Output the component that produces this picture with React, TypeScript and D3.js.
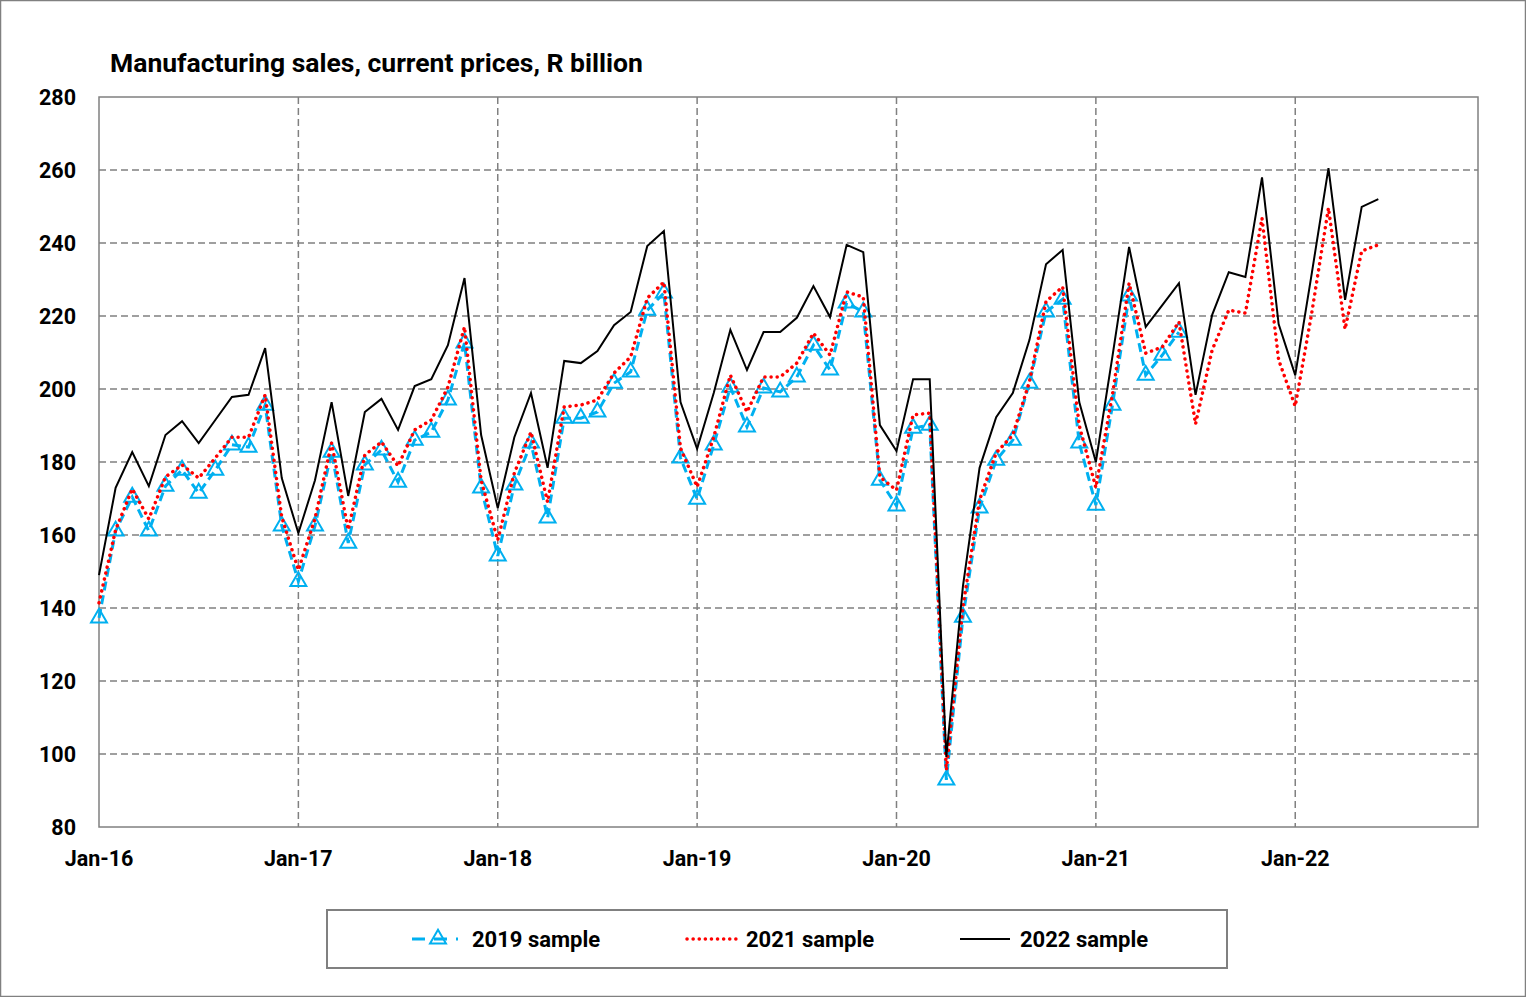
import { useEffect, useRef } from 'react';
import * as d3 from 'd3';

// Monthly values, index 0 = Jan-16
const sample2019 = [
  137.3, 161.1, 170.4, 161.1, 173.4, 177.8, 171.5, 177.8, 184.7, 184.1, 195.6, 162.5,
  147.3, 162.5, 182.7, 157.8, 179.2, 183.3, 174.5, 186.0, 188.2, 197.0, 212.6, 172.9,
  154.3, 173.7, 185.2, 164.7, 192.0, 192.0, 193.7, 201.6, 204.7, 221.6, 226.3, 181.1,
  169.8, 184.7, 200.5, 189.6, 200.3, 199.2, 203.3, 212.0, 205.2, 223.6, 221.1, 175.0,
  168.0, 189.3, 190.1, 92.9, 137.5, 167.4, 180.5, 186.0, 201.6, 221.1, 224.6, 185.2,
  168.2, 195.6, 225.5, 203.8, 209.3, 215.6,
];

const sample2021 = [
  141.4, 161.4, 172.6, 164.4, 175.9, 179.2, 175.6, 181.1, 186.8, 186.8, 198.4, 164.9,
  150.4, 164.5, 185.2, 161.4, 181.9, 185.5, 178.9, 188.8, 191.5, 200.5, 217.0, 175.0,
  158.6, 177.0, 188.2, 169.0, 195.1, 195.6, 197.0, 204.4, 208.8, 224.9, 229.3, 183.8,
  173.2, 186.8, 203.8, 193.7, 203.3, 203.3, 207.1, 215.3, 209.3, 226.6, 225.2, 175.9,
  172.3, 192.9, 193.4, 95.6, 140.3, 169.6, 182.5, 187.4, 202.0, 224.0, 228.0, 190.0,
  173.0, 198.5, 229.0, 209.8, 211.5, 218.4, 190.4, 210.7, 221.6, 220.8, 246.8, 208.0,
  195.3, 221.0, 249.6, 216.4, 237.8, 239.5,
];

const sample2022 = [
  149.0, 172.9, 182.7, 173.4, 187.4, 191.2, 185.2, 191.5, 197.8, 198.4, 211.2, 175.6,
  160.5, 175.0, 196.4, 170.7, 193.7, 197.3, 188.8, 200.8, 202.7, 212.0, 230.4, 187.4,
  167.4, 186.8, 198.9, 178.4, 207.7, 207.1, 210.4, 217.5, 221.1, 239.2, 243.3, 196.4,
  183.6, 198.9, 216.2, 205.2, 215.6, 215.6, 219.5, 228.2, 219.7, 239.5, 237.5, 190.1,
  183.0, 202.7, 202.7, 99.2, 146.0, 178.4, 192.3, 198.9, 213.4, 234.2, 238.1, 196.4,
  180.0, 209.0, 238.9, 217.0, 223.0, 229.0, 198.4, 220.3, 232.0, 230.7, 258.0, 217.8,
  203.8, 231.8, 260.5, 224.4, 249.9, 252.0,
];

const xTickLabels = ['Jan-16', 'Jan-17', 'Jan-18', 'Jan-19', 'Jan-20', 'Jan-21', 'Jan-22'];
const yTicks = [80, 100, 120, 140, 160, 180, 200, 220, 240, 260, 280];

const FONT = 'Roboto, "Noto Sans", sans-serif';
const BLUE = '#00B0F0';
const GRID = '#808080';

function App() {
  const ref = useRef<SVGSVGElement>(null);

  const svgWidth = 1526;
  const svgHeight = 997;

  useEffect(() => {
    const svg = d3.select(ref.current);
    svg.selectAll('*').remove();

    const left = 99;
    const right = 1478;
    const top = 97;
    const bottom = 827;

    // outer frame
    svg
      .append('rect')
      .attr('x', 0.5)
      .attr('y', 0.5)
      .attr('width', svgWidth - 1)
      .attr('height', svgHeight - 1)
      .attr('fill', 'white')
      .attr('stroke', GRID)
      .attr('stroke-width', 1.5);

    const x = d3.scaleLinear().domain([0, 83]).range([left, right]);
    const y = d3.scaleLinear().domain([80, 280]).range([bottom, top]);

    // title
    svg
      .append('text')
      .attr('x', 110)
      .attr('y', 72)
      .attr('font-family', FONT)
      .attr('font-weight', 'bold')
      .attr('font-size', 26.5)
      .text('Manufacturing sales, current prices, R billion');

    // horizontal grid
    svg
      .append('g')
      .selectAll('line')
      .data(yTicks.slice(1, -1))
      .join('line')
      .attr('x1', left)
      .attr('x2', right)
      .attr('y1', (d) => y(d))
      .attr('y2', (d) => y(d))
      .attr('stroke', GRID)
      .attr('stroke-width', 1.5)
      .attr('stroke-dasharray', '7,4');

    // vertical grid
    svg
      .append('g')
      .selectAll('line')
      .data(xTickLabels.slice(1))
      .join('line')
      .attr('x1', (_d, i) => x((i + 1) * 12))
      .attr('x2', (_d, i) => x((i + 1) * 12))
      .attr('y1', top)
      .attr('y2', bottom)
      .attr('stroke', GRID)
      .attr('stroke-width', 1.5)
      .attr('stroke-dasharray', '7,4');

    // plot frame
    svg
      .append('rect')
      .attr('x', left)
      .attr('y', top)
      .attr('width', right - left)
      .attr('height', bottom - top)
      .attr('fill', 'none')
      .attr('stroke', GRID)
      .attr('stroke-width', 1.5);

    // y labels
    svg
      .append('g')
      .selectAll('text')
      .data(yTicks)
      .join('text')
      .attr('x', 76)
      .attr('y', (d) => y(d) + 7.5)
      .attr('text-anchor', 'end')
      .attr('font-family', FONT)
      .attr('font-weight', 'bold')
      .attr('font-size', 21.5)
      .text((d) => d);

    // x labels
    svg
      .append('g')
      .selectAll('text')
      .data(xTickLabels)
      .join('text')
      .attr('x', (_d, i) => x(i * 12))
      .attr('y', 866)
      .attr('text-anchor', 'middle')
      .attr('font-family', FONT)
      .attr('font-weight', 'bold')
      .attr('font-size', 21.5)
      .text((d) => d);

    const line = d3
      .line<number>()
      .x((_d, i) => x(i))
      .y((d) => y(d));

    const triangle = d3.symbol().type(d3.symbolTriangle).size(110);

    // 2019 sample
    svg
      .append('path')
      .attr('d', line(sample2019))
      .attr('fill', 'none')
      .attr('stroke', BLUE)
      .attr('stroke-width', 3)
      .attr('stroke-dasharray', '9,5');
    svg
      .append('g')
      .selectAll('path')
      .data(sample2019)
      .join('path')
      .attr('d', triangle())
      .attr('transform', (d, i) => `translate(${x(i)}, ${y(d)})`)
      .attr('fill', 'none')
      .attr('stroke', BLUE)
      .attr('stroke-width', 2);

    // 2021 sample
    svg
      .append('path')
      .attr('d', line(sample2021))
      .attr('fill', 'none')
      .attr('stroke', '#FF0000')
      .attr('stroke-width', 3.5)
      .attr('stroke-linecap', 'round')
      .attr('stroke-dasharray', '0.1,6');

    // 2022 sample
    svg
      .append('path')
      .attr('d', line(sample2022))
      .attr('fill', 'none')
      .attr('stroke', 'black')
      .attr('stroke-width', 2);

    // legend
    const legend = svg.append('g');
    legend
      .append('rect')
      .attr('x', 327)
      .attr('y', 910)
      .attr('width', 900)
      .attr('height', 58)
      .attr('fill', 'white')
      .attr('stroke', GRID)
      .attr('stroke-width', 2);

    const ly = 939;
    legend
      .append('line')
      .attr('x1', 412)
      .attr('x2', 458)
      .attr('y1', ly)
      .attr('y2', ly)
      .attr('stroke', BLUE)
      .attr('stroke-width', 3)
      .attr('stroke-dasharray', '13,9');
    legend
      .append('path')
      .attr('d', triangle())
      .attr('transform', `translate(438, ${ly})`)
      .attr('fill', 'none')
      .attr('stroke', BLUE)
      .attr('stroke-width', 2);
    legend
      .append('line')
      .attr('x1', 687)
      .attr('x2', 737)
      .attr('y1', ly)
      .attr('y2', ly)
      .attr('stroke', '#FF0000')
      .attr('stroke-width', 3.5)
      .attr('stroke-linecap', 'round')
      .attr('stroke-dasharray', '0.1,6');
    legend
      .append('line')
      .attr('x1', 960)
      .attr('x2', 1010)
      .attr('y1', ly)
      .attr('y2', ly)
      .attr('stroke', 'black')
      .attr('stroke-width', 2);

    const legendText = [
      { x: 472, label: '2019 sample' },
      { x: 746, label: '2021 sample' },
      { x: 1020, label: '2022 sample' },
    ];
    legend
      .selectAll('text')
      .data(legendText)
      .join('text')
      .attr('x', (d) => d.x)
      .attr('y', 947)
      .attr('font-family', FONT)
      .attr('font-weight', 'bold')
      .attr('font-size', 22)
      .text((d) => d.label);
  }, []);

  return (
    <svg
      ref={ref}
      width={svgWidth}
      height={svgHeight}
      style={{ position: 'absolute', left: 0, top: 0 }}
    ></svg>
  );
}

export default App;
